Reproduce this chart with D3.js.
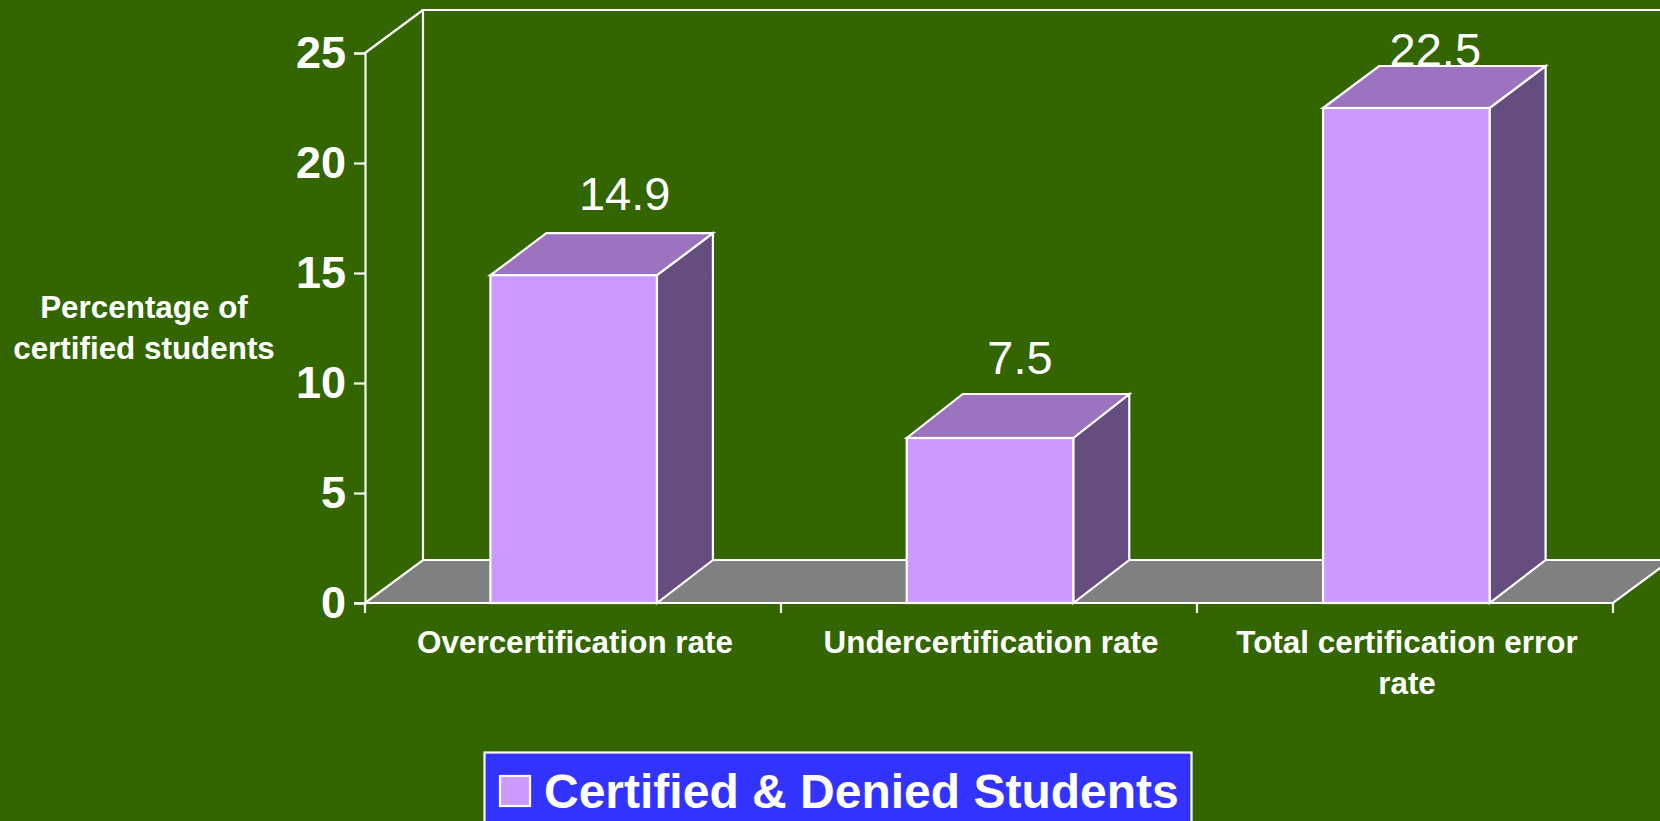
<!DOCTYPE html>
<html>
<head>
<meta charset="utf-8">
<script src="https://cdn.jsdelivr.net/npm/d3@7"></script>
<style>
  html, body { margin: 0; padding: 0; background: #336600; overflow: hidden; }
  text { font-family: "Liberation Sans", Arial, sans-serif; fill: #fff; }
</style>
</head>
<body>
<svg id="chart" width="1660" height="821"></svg>
<script>
let categories = ["Overcertification rate", "Undercertification rate", "Total certification error rate"];
let catLines = [["Overcertification rate"], ["Undercertification rate"], ["Total certification error", "rate"]];
let values = [14.9, 7.5, 22.5];
let valueLabels = ["14.9", "7.5", "22.5"];
let yTicks = [0, 5, 10, 15, 20, 25];
let seriesName = "Certified & Denied Students";

// hand placed labels and bar tops in the original slide
let labelDx = [51, 30, 29];
let labelDy = [65, 64, 42];
let topDepth = [42, 44, 42];

let white = "#fff";
let lineW = 2.2;
let left = 365, right = 1613, top0 = 53, bottom = 603;
let depthX = 58, depthY = 43, barDepthX = 56;

let svg = d3.select("#chart");

let y = d3.scaleLinear().domain([0, 25]).range([bottom, top0]);
let x = d3.scaleBand().domain(categories).range([left + 0.5, right + 1.5]).paddingInner(0.6).paddingOuter(0.3);
let xTick = d3.scaleLinear().domain([0, categories.length]).range([left, right]);

// back wall lines and floor
svg.append("path")
    .attr("d", d3.line()([[right, bottom], [left, bottom], [left + depthX, bottom - depthY], [right + depthX, bottom - depthY]]) + "Z")
    .style("fill", "#808080").style("stroke", white).style("stroke-width", lineW);

svg.append("path")
    .attr("d", d3.line()([[left + depthX, bottom - depthY], [left + depthX, top0 - depthY], [1660, top0 - depthY]]))
    .style("fill", "none").style("stroke", white).style("stroke-width", lineW);
svg.append("path")
    .attr("d", d3.line()([[left, top0], [left + depthX, top0 - depthY]]))
    .style("fill", "none").style("stroke", white).style("stroke-width", lineW);

// bars: side, top, front
let bars = svg.selectAll(".bar").data(values).enter().append("g").attr("class", "bar");

bars.append("path")
    .attr("d", (d, i) => {
        let x1 = x(categories[i]) + x.bandwidth();
        return d3.line()([[x1, y(d)], [x1 + barDepthX, y(d) - topDepth[i]], [x1 + barDepthX, bottom - depthY], [x1, bottom]]) + "Z";
    })
    .style("fill", "#664D80").style("stroke", white).style("stroke-width", lineW);

bars.append("path")
    .attr("d", (d, i) => {
        let x0 = x(categories[i]), x1 = x0 + x.bandwidth();
        return d3.line()([[x0, y(d)], [x0 + barDepthX, y(d) - topDepth[i]], [x1 + barDepthX, y(d) - topDepth[i]], [x1, y(d)]]) + "Z";
    })
    .style("fill", "#9B73BF").style("stroke", white).style("stroke-width", lineW);

bars.append("rect")
    .attr("x", (d, i) => x(categories[i]))
    .attr("y", d => y(d))
    .attr("width", x.bandwidth())
    .attr("height", d => bottom - y(d))
    .style("fill", "#CC99FF").style("stroke", white).style("stroke-width", lineW);

// value labels
svg.selectAll(".val").data(values).enter().append("text")
    .attr("class", "val")
    .attr("x", (d, i) => x(categories[i]) + x.bandwidth() / 2 + labelDx[i])
    .attr("y", (d, i) => y(d) - labelDy[i])
    .attr("text-anchor", "middle")
    .style("font-size", "47px")
    .text((d, i) => valueLabels[i]);

// y axis
let yAxis = svg.append("g").attr("transform", `translate(${left},0)`)
    .call(d3.axisLeft(y).tickValues(yTicks).tickSize(11).tickPadding(8).tickFormat(d3.format("d")));
yAxis.select(".domain").style("stroke", white).style("stroke-width", lineW);
yAxis.selectAll(".tick line").style("stroke", white).style("stroke-width", lineW);
yAxis.selectAll("text").attr("y", 0.5).style("font-size", "45px").style("font-weight", "bold").style("font-family", "Liberation Sans").style("fill", white);

// x axis, ticks between the categories
svg.append("line").attr("x1", left - 11).attr("x2", right).attr("y1", bottom).attr("y2", bottom)
    .style("stroke", white).style("stroke-width", lineW);
svg.selectAll(".xtick").data(d3.range(categories.length + 1)).enter().append("line")
    .attr("x1", d => xTick(d)).attr("x2", d => xTick(d)).attr("y1", bottom).attr("y2", bottom + 10)
    .style("stroke", white).style("stroke-width", lineW);

catLines.forEach((lines, i) => {
    lines.forEach((t, j) => {
        svg.append("text")
            .attr("x", xTick(i + 0.5) + 2)
            .attr("y", 653 + j * 41)
            .attr("text-anchor", "middle")
            .style("font-size", "31.4px").style("font-weight", "bold")
            .text(t);
    });
});

// y title
["Percentage of", "certified students"].forEach((t, j) => {
    svg.append("text")
        .attr("x", 144).attr("y", 318 + j * 41)
        .attr("text-anchor", "middle")
        .style("font-size", "31.4px").style("font-weight", "bold")
        .text(t);
});

// legend
svg.append("rect").attr("x", 484.5).attr("y", 752.5).attr("width", 707).attr("height", 80)
    .style("fill", "#3333FF").style("stroke", white).style("stroke-width", lineW);
svg.append("rect").attr("x", 500).attr("y", 776).attr("width", 30).attr("height", 30)
    .style("fill", "#CC99FF").style("stroke", white).style("stroke-width", lineW);
svg.append("text").attr("x", 544).attr("y", 808)
    .style("font-size", "48px").style("font-weight", "bold")
    .text(seriesName);
</script>
</body>
</html>
